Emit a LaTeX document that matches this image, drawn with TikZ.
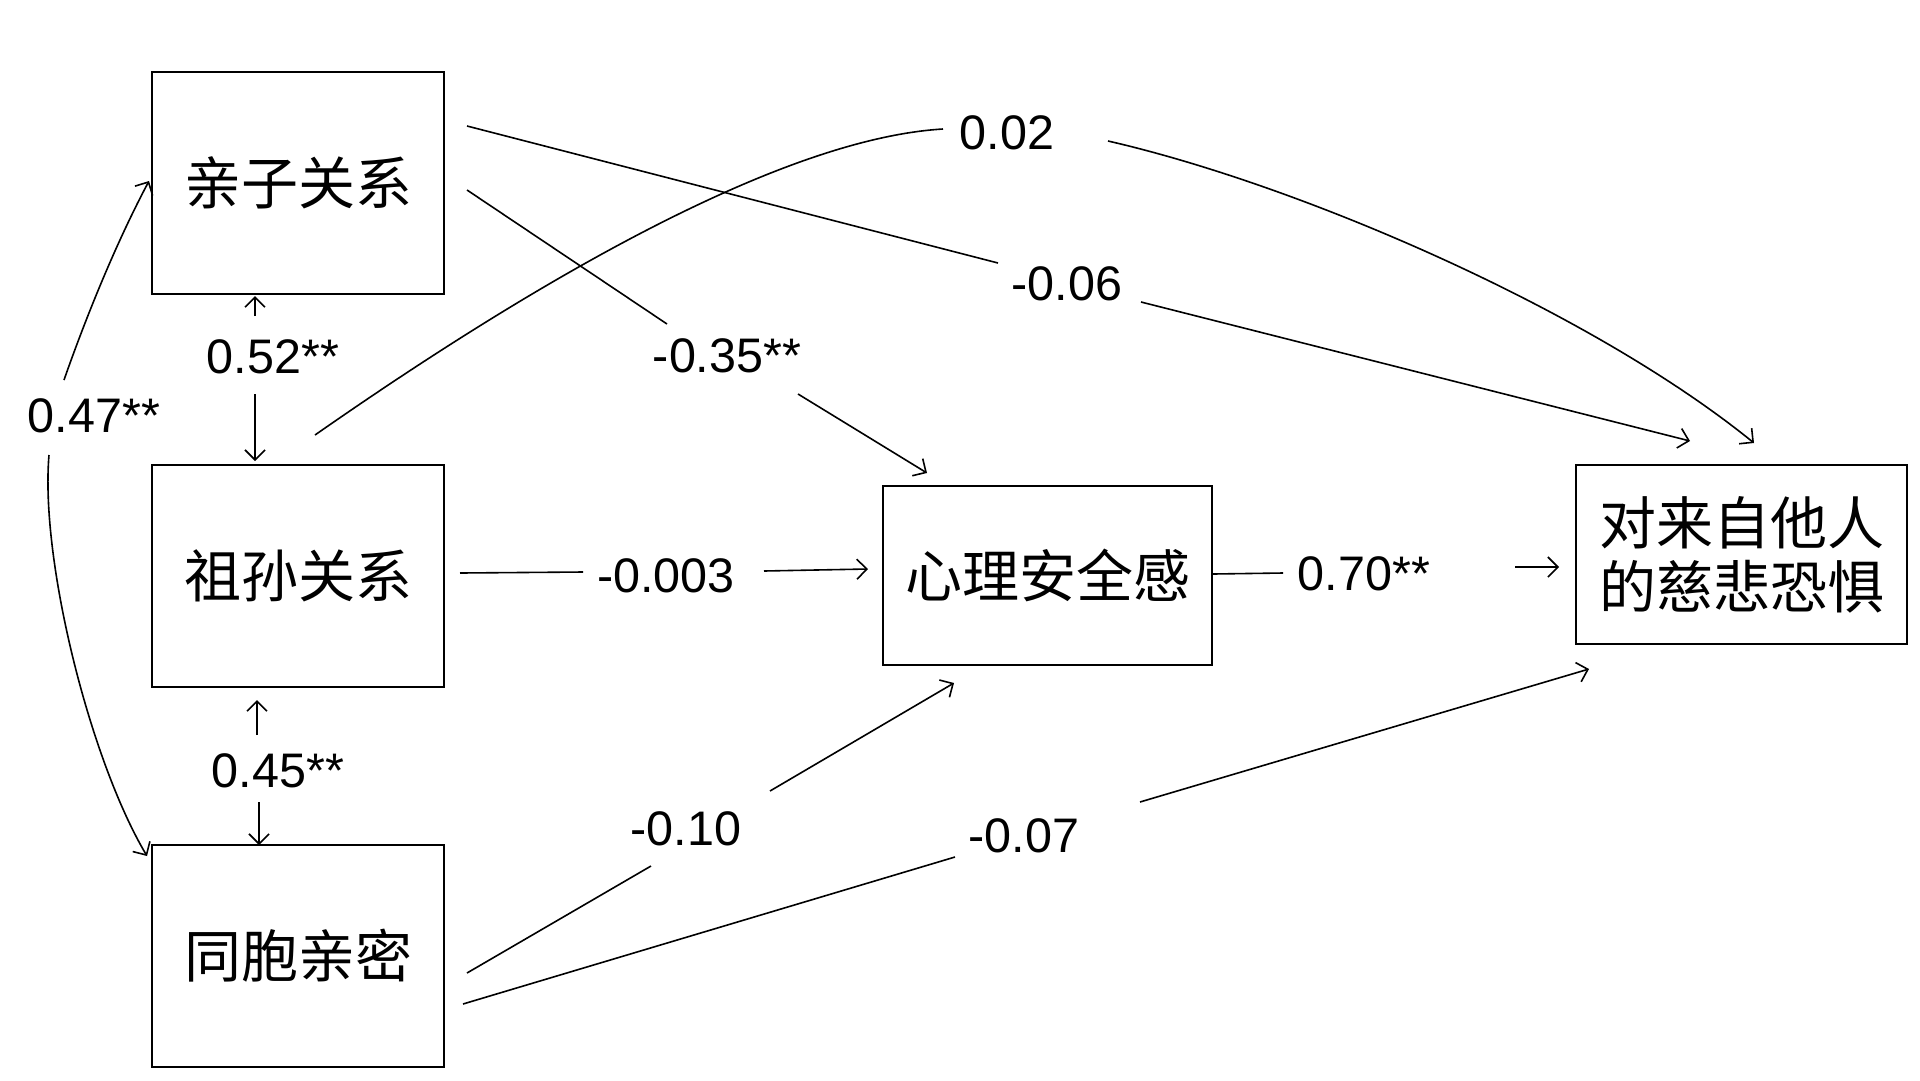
\documentclass[tikz,border=0pt]{standalone}
\usepackage{fontspec}
\setmainfont{Liberation Sans}
\newfontfamily\cjk{Noto Sans CJK SC}
\usetikzlibrary{arrows.meta}
\begin{document}
\begin{tikzpicture}[x=1pt,y=-1pt,
  box/.style={draw, line width=2pt, minimum width=292pt, minimum height=222pt, inner sep=0pt,
    font=\cjk\fontsize{57}{64}\selectfont, align=center},
  lbl/.style={inner sep=0pt, font=\fontsize{48.5}{56}\selectfont},
  conn/.style={line width=1.6pt},
  arr/.style={conn, -{Straight Barb[length=10pt,width=20pt,line width=1.6pt]}},
]
\useasboundingbox[fill=white] (0,0) rectangle (1920,1080);

% boxes
\node[box] (A) at (298,183) {亲子关系};
\node[box] (B) at (298,575.5) {祖孙关系};
\node[box] (C) at (298,956) {同胞亲密};
\node[box, minimum width=329pt, minimum height=179pt] (M) at (1047.5,575.5) {心理安全感};
\node[box, minimum width=331pt, minimum height=179pt] (Y) at (1741.5,554.5) {对来自他人\\的慈悲恐惧};

% labels
\node[lbl] (l52) at (273,357) {0.52**};
\node[lbl] (l45) at (278,771) {0.45**};
\node[lbl] (l47) at (94,416) {0.47**};
\node[lbl] (l02) at (1007,133) {0.02};
\node[lbl] (l06) at (1067,284) {-0.06};
\node[lbl] (l35) at (727,356) {-0.35**};
\node[lbl] (l003) at (666,576) {-0.003};
\node[lbl] (l70) at (1364,574) {0.70**};
\node[lbl] (l10) at (686,829) {-0.10};
\node[lbl] (l07) at (1024,836) {-0.07};

% connector end points
\coordinate (s52a) at (255,316); \coordinate (t52a) at (255,296);
\coordinate (s52b) at (255,394); \coordinate (t52b) at (255,461);
\coordinate (s45a) at (257,735); \coordinate (t45a) at (257,700);
\coordinate (s45b) at (259,802); \coordinate (t45b) at (259,845);
\coordinate (s47a) at (64,380);  \coordinate (t47a) at (149,181);
\coordinate (s47b) at (49,455);  \coordinate (t47b) at (147,856);
\coordinate (s02a) at (315,435); \coordinate (e02a) at (943,129);
\coordinate (s02b) at (1108,141); \coordinate (t02b) at (1754,443);
\coordinate (s06a) at (467,126); \coordinate (e06a) at (998,263);
\coordinate (s06b) at (1141,302); \coordinate (t06b) at (1690,441);
\coordinate (s35a) at (467,190); \coordinate (e35a) at (667,324);
\coordinate (s35b) at (798,394); \coordinate (t35b) at (927,473);
\coordinate (s003a) at (460,573); \coordinate (e003a) at (583,572);
\coordinate (s003b) at (764,571); \coordinate (t003b) at (868,569);
\coordinate (s70a) at (1213,574); \coordinate (e70a) at (1283,573);
\coordinate (s70b) at (1515,567); \coordinate (t70b) at (1559,567);
\coordinate (s10a) at (467,973); \coordinate (e10a) at (651,866);
\coordinate (s10b) at (770,791); \coordinate (t10b) at (954,683);
\coordinate (s07a) at (463,1004); \coordinate (e07a) at (955,857);
\coordinate (s07b) at (1140,802); \coordinate (t07b) at (1589,669);

% connectors
\draw[arr] (s52a) -- (t52a);
\draw[arr] (s52b) -- (t52b);
\draw[arr] (s45a) -- (t45a);
\draw[arr] (s45b) -- (t45b);
\draw[arr] (s47a) .. controls (85,320) and (115,245) .. (t47a);
\draw[arr] (s47b) .. controls (40,560) and (90,760) .. (t47b);
\draw[conn] (s02a) .. controls (480,320) and (760,140) .. (e02a);
\draw[arr] (s02b) .. controls (1300,185) and (1590,310) .. (t02b);
\draw[conn] (s06a) -- (e06a);
\draw[arr] (s06b) -- (t06b);
\draw[conn] (s35a) -- (e35a);
\draw[arr] (s35b) -- (t35b);
\draw[conn] (s003a) -- (e003a);
\draw[arr] (s003b) -- (t003b);
\draw[conn] (s70a) -- (e70a);
\draw[arr] (s70b) -- (t70b);
\draw[conn] (s10a) -- (e10a);
\draw[arr] (s10b) -- (t10b);
\draw[conn] (s07a) -- (e07a);
\draw[arr] (s07b) -- (t07b);
\end{tikzpicture}
\end{document}
